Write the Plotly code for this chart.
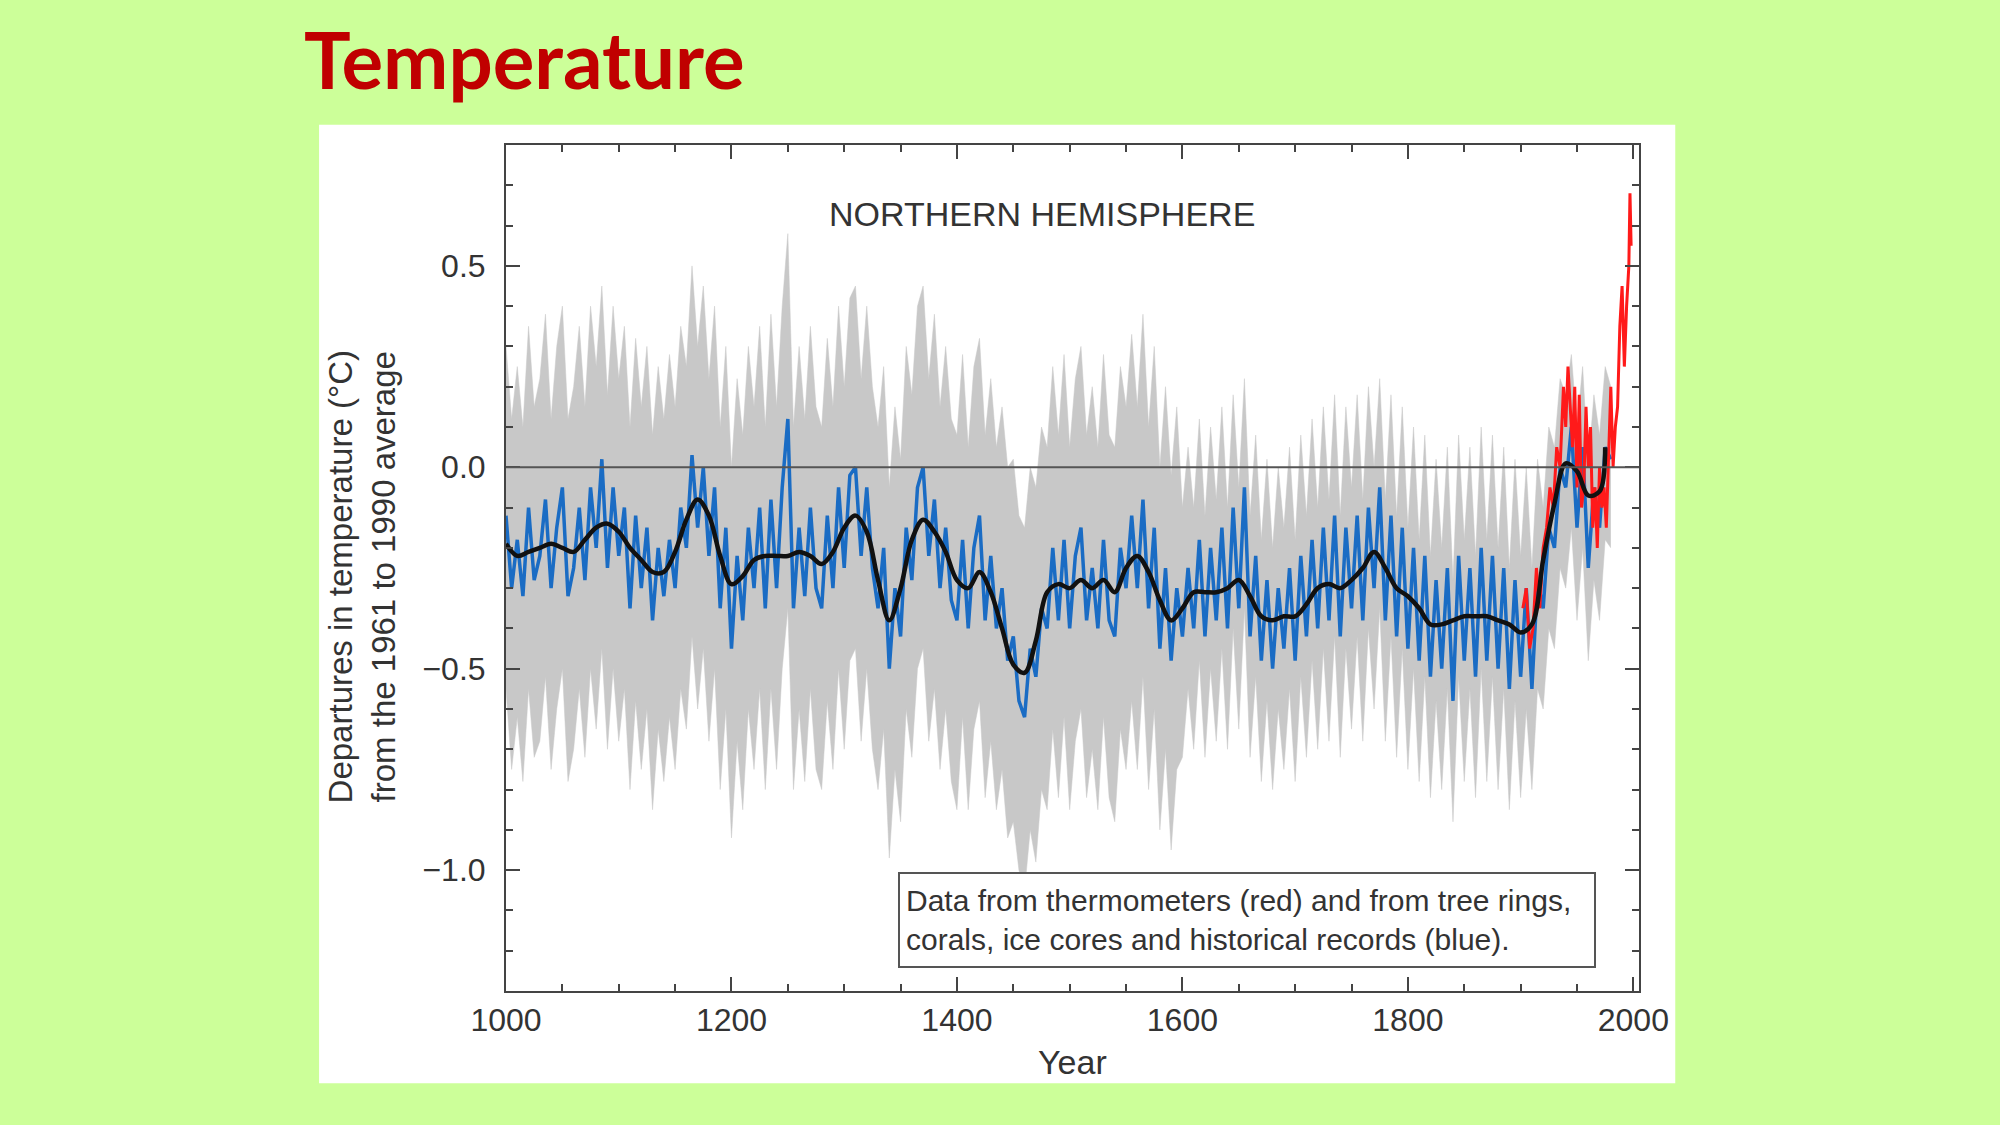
# Temperatura - Hemisfério Norte (reconstrução de 1000 anos)

# %% Bibliotecas
import plotly.graph_objects as go

# %% Dados lidos da figura
# reconstrução anual (azul), amostrada a cada 5 anos
anos = list(range(1000, 1981, 5))

azul = [
    -0.12, -0.30, -0.18, -0.32, -0.10, -0.28, -0.22, -0.08, -0.30, -0.15, -0.05, -0.32, -0.25, -0.10, -0.28, -0.05, -0.20, 0.02, -0.25, -0.05,
    -0.22, -0.10, -0.35, -0.12, -0.30, -0.15, -0.38, -0.20, -0.32, -0.18, -0.30, -0.10, -0.20, 0.03, -0.15, 0.00, -0.22, -0.05, -0.35, -0.15,
    -0.45, -0.22, -0.38, -0.15, -0.30, -0.10, -0.35, -0.08, -0.30, -0.05, 0.12, -0.35, -0.15, -0.32, -0.10, -0.30, -0.35, -0.12, -0.30, -0.05,
    -0.25, -0.02, 0.00, -0.22, -0.05, -0.25, -0.35, -0.20, -0.50, -0.30, -0.42, -0.15, -0.28, -0.05, 0.00, -0.22, -0.08, -0.30, -0.15, -0.33,
    -0.38, -0.18, -0.40, -0.20, -0.12, -0.38, -0.22, -0.40, -0.30, -0.48, -0.42, -0.58, -0.62, -0.45, -0.52, -0.35, -0.40, -0.20, -0.38, -0.18,
    -0.40, -0.22, -0.15, -0.38, -0.25, -0.40, -0.18, -0.38, -0.42, -0.20, -0.30, -0.12, -0.30, -0.08, -0.35, -0.15, -0.45, -0.25, -0.48, -0.30,
    -0.42, -0.25, -0.40, -0.18, -0.42, -0.20, -0.38, -0.15, -0.40, -0.10, -0.35, -0.05, -0.42, -0.22, -0.48, -0.28, -0.50, -0.30, -0.45, -0.25,
    -0.48, -0.22, -0.42, -0.18, -0.40, -0.15, -0.38, -0.12, -0.42, -0.15, -0.35, -0.12, -0.38, -0.10, -0.30, -0.05, -0.38, -0.12, -0.42, -0.15,
    -0.45, -0.20, -0.48, -0.22, -0.52, -0.28, -0.50, -0.25, -0.58, -0.22, -0.48, -0.25, -0.52, -0.20, -0.48, -0.22, -0.50, -0.25, -0.55, -0.28,
    -0.52, -0.30, -0.55, -0.28, -0.35, -0.15, -0.20, 0.00, -0.05, 0.10, -0.15, 0.05, -0.25, -0.05, -0.15, 0.05, 0.02,
]

# faixa de incerteza (cinza), limites superior e inferior
cinza_sup = [
    0.30, 0.12, 0.25, 0.10, 0.35, 0.15, 0.22, 0.38, 0.12, 0.30, 0.40, 0.12, 0.20, 0.35, 0.15, 0.40, 0.25, 0.45, 0.18, 0.40,
    0.22, 0.35, 0.10, 0.32, 0.15, 0.30, 0.08, 0.25, 0.12, 0.28, 0.15, 0.35, 0.25, 0.50, 0.30, 0.45, 0.22, 0.40, 0.10, 0.30,
    0.00, 0.22, 0.08, 0.30, 0.15, 0.35, 0.10, 0.38, 0.15, 0.40, 0.58, 0.10, 0.30, 0.12, 0.35, 0.15, 0.10, 0.32, 0.15, 0.40,
    0.20, 0.42, 0.45, 0.22, 0.40, 0.20, 0.10, 0.25, -0.05, 0.15, 0.02, 0.30, 0.18, 0.40, 0.45, 0.22, 0.38, 0.15, 0.30, 0.12,
    0.08, 0.28, 0.05, 0.25, 0.32, 0.08, 0.22, 0.05, 0.15, 0.00, 0.02, -0.12, -0.15, 0.00, -0.05, 0.10, 0.05, 0.25, 0.08, 0.28,
    0.05, 0.22, 0.30, 0.08, 0.20, 0.05, 0.28, 0.08, 0.05, 0.25, 0.15, 0.33, 0.15, 0.38, 0.10, 0.30, 0.00, 0.20, -0.02, 0.15,
    -0.10, 0.05, -0.10, 0.12, -0.12, 0.10, -0.08, 0.15, -0.10, 0.18, -0.05, 0.22, -0.12, 0.08, -0.18, 0.02, -0.20, 0.00, -0.15, 0.05,
    -0.18, 0.08, -0.12, 0.12, -0.10, 0.15, -0.08, 0.18, -0.12, 0.15, -0.05, 0.18, -0.08, 0.20, 0.00, 0.22, -0.08, 0.18, -0.12, 0.15,
    -0.15, 0.10, -0.18, 0.08, -0.22, 0.02, -0.20, 0.05, -0.28, 0.08, -0.18, 0.05, -0.22, 0.10, -0.18, 0.08, -0.20, 0.05, -0.25, 0.02,
    -0.22, 0.00, -0.25, 0.02, -0.10, 0.10, 0.05, 0.22, 0.18, 0.28, 0.10, 0.25, 0.00, 0.18, 0.08, 0.25, 0.20,
]

cinza_inf = [
    -0.55, -0.75, -0.62, -0.78, -0.55, -0.72, -0.68, -0.52, -0.75, -0.60, -0.50, -0.78, -0.70, -0.55, -0.72, -0.50, -0.65, -0.45, -0.70, -0.50,
    -0.68, -0.55, -0.80, -0.58, -0.75, -0.60, -0.85, -0.65, -0.78, -0.62, -0.75, -0.55, -0.65, -0.42, -0.60, -0.45, -0.68, -0.50, -0.80, -0.60,
    -0.92, -0.68, -0.85, -0.60, -0.75, -0.55, -0.80, -0.55, -0.75, -0.50, -0.35, -0.80, -0.60, -0.78, -0.55, -0.75, -0.80, -0.58, -0.75, -0.50,
    -0.70, -0.48, -0.45, -0.68, -0.50, -0.70, -0.80, -0.65, -0.97, -0.75, -0.88, -0.60, -0.72, -0.50, -0.45, -0.68, -0.55, -0.75, -0.60, -0.78,
    -0.85, -0.62, -0.85, -0.65, -0.58, -0.82, -0.68, -0.85, -0.75, -0.92, -0.88, -1.00, -1.05, -0.90, -0.98, -0.80, -0.85, -0.65, -0.82, -0.62,
    -0.85, -0.68, -0.60, -0.82, -0.70, -0.85, -0.62, -0.82, -0.88, -0.65, -0.75, -0.58, -0.75, -0.52, -0.80, -0.60, -0.90, -0.70, -0.95, -0.75,
    -0.72, -0.55, -0.70, -0.48, -0.72, -0.50, -0.68, -0.45, -0.70, -0.40, -0.65, -0.35, -0.72, -0.52, -0.78, -0.58, -0.80, -0.60, -0.75, -0.55,
    -0.78, -0.52, -0.72, -0.48, -0.70, -0.45, -0.68, -0.42, -0.72, -0.45, -0.65, -0.42, -0.68, -0.40, -0.60, -0.35, -0.68, -0.42, -0.72, -0.45,
    -0.75, -0.50, -0.78, -0.52, -0.82, -0.58, -0.80, -0.55, -0.88, -0.52, -0.78, -0.55, -0.82, -0.50, -0.78, -0.52, -0.80, -0.55, -0.85, -0.58,
    -0.82, -0.60, -0.80, -0.55, -0.60, -0.40, -0.45, -0.25, -0.30, -0.15, -0.38, -0.20, -0.48, -0.28, -0.38, -0.18, -0.20,
]

# média suavizada (preto), a cada 10 anos
anos_preto = list(range(1000, 1971, 10)) + [1975]
preto = [
    -0.19, -0.22, -0.21, -0.20, -0.19, -0.20, -0.21, -0.18, -0.15, -0.14,
    -0.16, -0.20, -0.23, -0.26, -0.26, -0.21, -0.13, -0.08, -0.12, -0.22,
    -0.29, -0.27, -0.23, -0.22, -0.22, -0.22, -0.21, -0.22, -0.24, -0.21,
    -0.15, -0.12, -0.16, -0.28, -0.38, -0.30, -0.18, -0.13, -0.16, -0.21,
    -0.28, -0.30, -0.26, -0.31, -0.40, -0.49, -0.51, -0.43, -0.31, -0.29,
    -0.30, -0.28, -0.30, -0.28, -0.31, -0.25, -0.22, -0.26, -0.33, -0.38,
    -0.35, -0.31, -0.31, -0.31, -0.30, -0.28, -0.32, -0.37, -0.38, -0.37,
    -0.37, -0.34, -0.30, -0.29, -0.30, -0.28, -0.25, -0.21, -0.25, -0.30,
    -0.32, -0.35, -0.39, -0.39, -0.38, -0.37, -0.37, -0.37, -0.38, -0.39,
    -0.41, -0.39, -0.23, -0.09, 0.01, -0.01, -0.07, -0.06, 0.05,
]

# termômetros (vermelho)
anos_vermelho = [1902, 1905, 1908, 1911, 1914, 1917, 1920, 1923, 1926, 1929,
                 1932, 1935, 1938, 1940, 1942, 1944, 1946, 1948, 1950, 1952,
                 1954, 1956, 1958, 1960, 1962, 1964, 1966, 1968, 1970, 1972,
                 1974, 1976, 1978, 1980, 1982, 1984, 1986, 1988, 1990, 1992,
                 1994, 1996, 1997, 1998]
vermelho = [-0.35, -0.30, -0.45, -0.40, -0.25, -0.35, -0.20, -0.15, -0.05, -0.10,
            0.05, 0.00, 0.20, 0.10, 0.25, 0.15, 0.05, 0.20, -0.05, 0.18,
            -0.10, -0.05, 0.15, 0.00, 0.10, -0.15, -0.05, -0.20, 0.00, -0.10,
            -0.05, -0.15, 0.05, 0.20, 0.00, 0.10, 0.15, 0.35, 0.45, 0.25,
            0.40, 0.50, 0.68, 0.55]

ticks_x = [1000, 1200, 1400, 1600, 1800, 2000]
ticks_y = [-1.0, -0.5, 0.0, 0.5]

# %% Figura
fig = go.Figure()

# faixa cinza
fig.add_trace(go.Scatter(x=anos, y=cinza_inf, mode="lines",
                         line=dict(color="#c8c8c8", width=0.5), hoverinfo="skip"))
fig.add_trace(go.Scatter(x=anos, y=cinza_sup, mode="lines", fill="tonexty",
                         fillcolor="#c8c8c8", line=dict(color="#c8c8c8", width=0.5),
                         hoverinfo="skip"))

# reconstrução
fig.add_trace(go.Scatter(x=anos, y=azul, mode="lines",
                         line=dict(color="#1a6cc4", width=3.5)))

# termômetros
fig.add_trace(go.Scatter(x=anos_vermelho, y=vermelho, mode="lines",
                         line=dict(color="#ff1a1a", width=3)))

# média suavizada
fig.add_trace(go.Scatter(x=anos_preto, y=preto, mode="lines",
                         line=dict(color="#111111", width=4.5, shape="spline")))

# linha do zero
fig.add_hline(y=0, line=dict(color="#555555", width=2), layer="above")

# fundo branco da imagem
fig.add_shape(type="rect", xref="paper", yref="paper",
              x0=-0.165, x1=1.032, y0=-0.109, y1=1.024,
              fillcolor="white", line=dict(width=0), layer="below")

eixo = dict(showline=True, linecolor="#444444", linewidth=2, mirror="ticks",
            ticks="inside", ticklen=14, tickwidth=2, tickcolor="#444444",
            showgrid=False, zeroline=False,
            tickfont=dict(family="Liberation Sans", size=32, color="#333333"))

fig.update_xaxes(range=[1000, 2005], tickvals=ticks_x,
                 minor=dict(dtick=50, tick0=1000, ticks="inside", ticklen=7,
                            tickwidth=1.5, tickcolor="#444444"),
                 **eixo)
fig.update_yaxes(range=[-1.3, 0.8], tickvals=ticks_y, tickformat=".1f",
                 ticklabelstandoff=12,
                 minor=dict(dtick=0.1, tick0=0, ticks="inside", ticklen=7,
                            tickwidth=1.5, tickcolor="#444444"),
                 **eixo)

fonte = dict(family="Liberation Sans", color="#333333")

fig.add_annotation(text="<b>Temperature</b>", xref="paper", yref="paper",
                   x=-0.18, y=1.102, xanchor="left", yanchor="middle", showarrow=False,
                   font=dict(family="Lato", size=78, color="#C00000"))
fig.add_annotation(text="NORTHERN HEMISPHERE", xref="paper", yref="paper",
                   x=0.473, y=0.918, xanchor="center", yanchor="middle",
                   showarrow=False, font=dict(size=34, **fonte))
fig.add_annotation(text="Departures in temperature (°C)<br>from the 1961 to 1990 average",
                   xref="paper", yref="paper", x=-0.127, y=0.489, textangle=-90,
                   xanchor="center", yanchor="middle",
                   showarrow=False, font=dict(size=33, **fonte))
fig.add_annotation(text="Year", xref="paper", yref="paper", x=0.5, y=-0.084,
                   xanchor="center", yanchor="middle",
                   showarrow=False, font=dict(size=34, **fonte))
fig.add_annotation(text="Data from thermometers (red) and from tree rings,<br>"
                        "corals, ice cores and historical records (blue).",
                   xref="paper", yref="paper", x=0.654, y=0.0845,
                   xanchor="center", yanchor="middle", align="left",
                   width=682, height=80, borderpad=6, bordercolor="#555555",
                   borderwidth=2, bgcolor="white", showarrow=False,
                   font=dict(size=30, **fonte))

fig.update_layout(width=2000, height=1125, autosize=False,
                  paper_bgcolor="#CCFF99", plot_bgcolor="white",
                  margin=dict(l=506, r=361, t=145, b=134), showlegend=False)

# tira a margem da página para a figura ocupar a janela inteira
fig.write_html("out.html", config={"displayModeBar": False},
               post_script="document.body.style.margin='0';"
                           "document.body.style.background='#CCFF99';")
